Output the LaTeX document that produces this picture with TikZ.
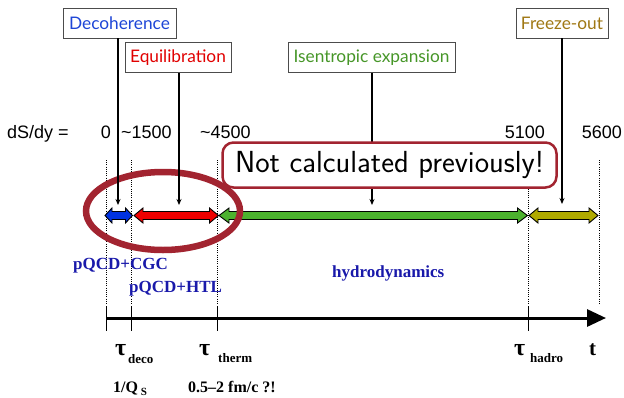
\documentclass[tikz,border=0pt]{standalone}
\usepackage{fontspec}
\setmainfont{Liberation Serif}
\newfontfamily\lblfont{Lato}
\newfontfamily\arialfont{Liberation Sans}
\usetikzlibrary{arrows.meta}
\definecolor{decblue}{RGB}{30,70,215}
\definecolor{equred}{RGB}{225,0,0}
\definecolor{isegreen}{RGB}{70,150,40}
\definecolor{frzbrown}{RGB}{160,120,20}
\definecolor{arrblue}{RGB}{0,50,225}
\definecolor{arrred}{RGB}{238,0,0}
\definecolor{arrgreen}{RGB}{76,178,46}
\definecolor{arrolive}{RGB}{176,170,0}
\definecolor{ellred}{RGB}{162,36,48}
\definecolor{txtblue}{RGB}{25,25,170}
\newcommand{\DblArr}[4]{% color, x1, x2, head length
  \filldraw[fill=#1,draw=black,line width=0.9pt,line join=miter]
    (#2,215.5) -- (#2+#4,208) -- (#2+#4,211.5) -- (#3-#4,211.5) -- (#3-#4,208)
    -- (#3,215.5) -- (#3-#4,223) -- (#3-#4,219.5) -- (#2+#4,219.5) -- (#2+#4,223) -- cycle;}
\begin{document}
\begin{tikzpicture}[x=1pt,y=-1pt,
  lbl/.style={draw=black!70,line width=0.8pt,fill=white,inner sep=0pt,
    font=\lblfont\fontsize{17.3}{17.3}\selectfont},
  conn/.style={line width=1.1pt,-{Stealth[length=6pt,width=5pt]}},
  dots/.style={dash pattern=on 1pt off 1.2pt,line width=1pt},
  tick/.style={line width=0.9pt},
  dsdy/.style={font=\arialfont\fontsize{18}{18}\selectfont,inner sep=0pt},
  blutxt/.style={font=\bfseries\fontsize{17}{17}\selectfont,text=txtblue,inner sep=0pt,anchor=base west},
  tautxt/.style={font=\bfseries\fontsize{24}{24}\selectfont,inner sep=0pt,anchor=base west},
  subtxt/.style={font=\bfseries\fontsize{13}{13}\selectfont,inner sep=0pt,anchor=base west},
  bottxt/.style={font=\bfseries\fontsize{16}{16}\selectfont,inner sep=0pt,anchor=base west},
  notbox/.style={draw=ellred,line width=2.5pt,fill=white,rounded corners=11pt,inner sep=0pt,
    minimum width=334pt,minimum height=45pt,
    font=\sffamily\fontsize{30.5}{30.5}\selectfont}]
\useasboundingbox (0,0) rectangle (624,397);
% dotted guide lines
\foreach \xx in {106,131,217,528,599} \draw[dots] (\xx,160) -- (\xx,305);
% time axis
\coordinate (a0) at (106,318);
\coordinate (a1) at (606,318);
\draw[line width=3pt,-{Triangle[length=19pt,width=17pt]}] (a0) -- (a1);
\foreach \xx in {106,131,217,528} \draw[tick] (\xx,306) -- (\xx,331);
% colored phase arrows
\DblArr{arrblue}{105}{132.5}{7}
\DblArr{arrred}{134}{218.5}{9}
\DblArr{arrgreen}{219}{527.5}{10}
\DblArr{arrolive}{529}{598}{9}
% ellipse
\draw[ellred,line width=6.5pt] (163,211) ellipse [x radius=77pt,y radius=39pt];
% label boxes
\node[lbl,text=decblue,minimum width=113pt,minimum height=30pt] (dec) at (119.5,23) {Decoherence};
\node[lbl,text=equred,minimum width=106pt,minimum height=30pt] (equ) at (178,57.5) {Equilibration};
\node[lbl,text=isegreen,minimum width=167pt,minimum height=30pt] (ise) at (371.5,57.5) {Isentropic expansion};
\node[lbl,text=frzbrown,minimum width=92pt,minimum height=30pt] (frz) at (562,23) {Freeze-out};
% connectors
\coordinate (tdec) at (118,205);
\coordinate (tequ) at (179,205);
\coordinate (tise) at (372,205);
\coordinate (tfrz) at (562,204);
\draw[conn] (dec.south -| tdec) -- (tdec);
\draw[conn] (equ.south -| tequ) -- (tequ);
\draw[conn] (ise.south -| tise) -- (tise);
\draw[conn] (frz.south -| tfrz) -- (tfrz);
% Not calculated box
\node[notbox] (nc) at (389.5,165) {Not calculated previously!};
% dS/dy row
\node[dsdy,anchor=base west] (ds) at (7,138) {dS/dy =};
\node[dsdy,anchor=base east] (s0) at (111,138) {0};
\node[dsdy,anchor=base west] (s1) at (121,138) {\textasciitilde1500};
\node[dsdy,anchor=base west] (s2) at (200,138) {\textasciitilde4500};
\node[dsdy,anchor=base east] (s3) at (545,138) {5100};
\node[dsdy,anchor=base east] (s4) at (622,138) {5600};
% method labels
\node[blutxt] (cgc) at (73,269) {pQCD+CGC};
\node[blutxt] (htl) at (129,292) {pQCD+HTL};
\node[blutxt] (hyd) at (332,277) {hydrodynamics};
% tau labels
\node[tautxt] (tau1) at (115,355) {τ};
\node[subtxt] (sub1) at (128,363) {deco};
\node[tautxt] (tau2) at (199,355) {τ};
\node[subtxt] (sub2) at (218,362) {therm};
\node[tautxt] (tau3) at (514,355) {τ};
\node[subtxt] (sub3) at (530,362) {hadro};
\node[font=\bfseries\fontsize{21}{21}\selectfont,inner sep=0pt,anchor=base west] (tt) at (589,355) {t};
\node[bottxt] (qs) at (113,392) {1/Q\,\raisebox{-3pt}{\fontsize{11}{11}\selectfont S}};
\node[bottxt] (fm) at (188,392) {0.5\textendash2 fm/c ?!};
\end{tikzpicture}
\end{document}
